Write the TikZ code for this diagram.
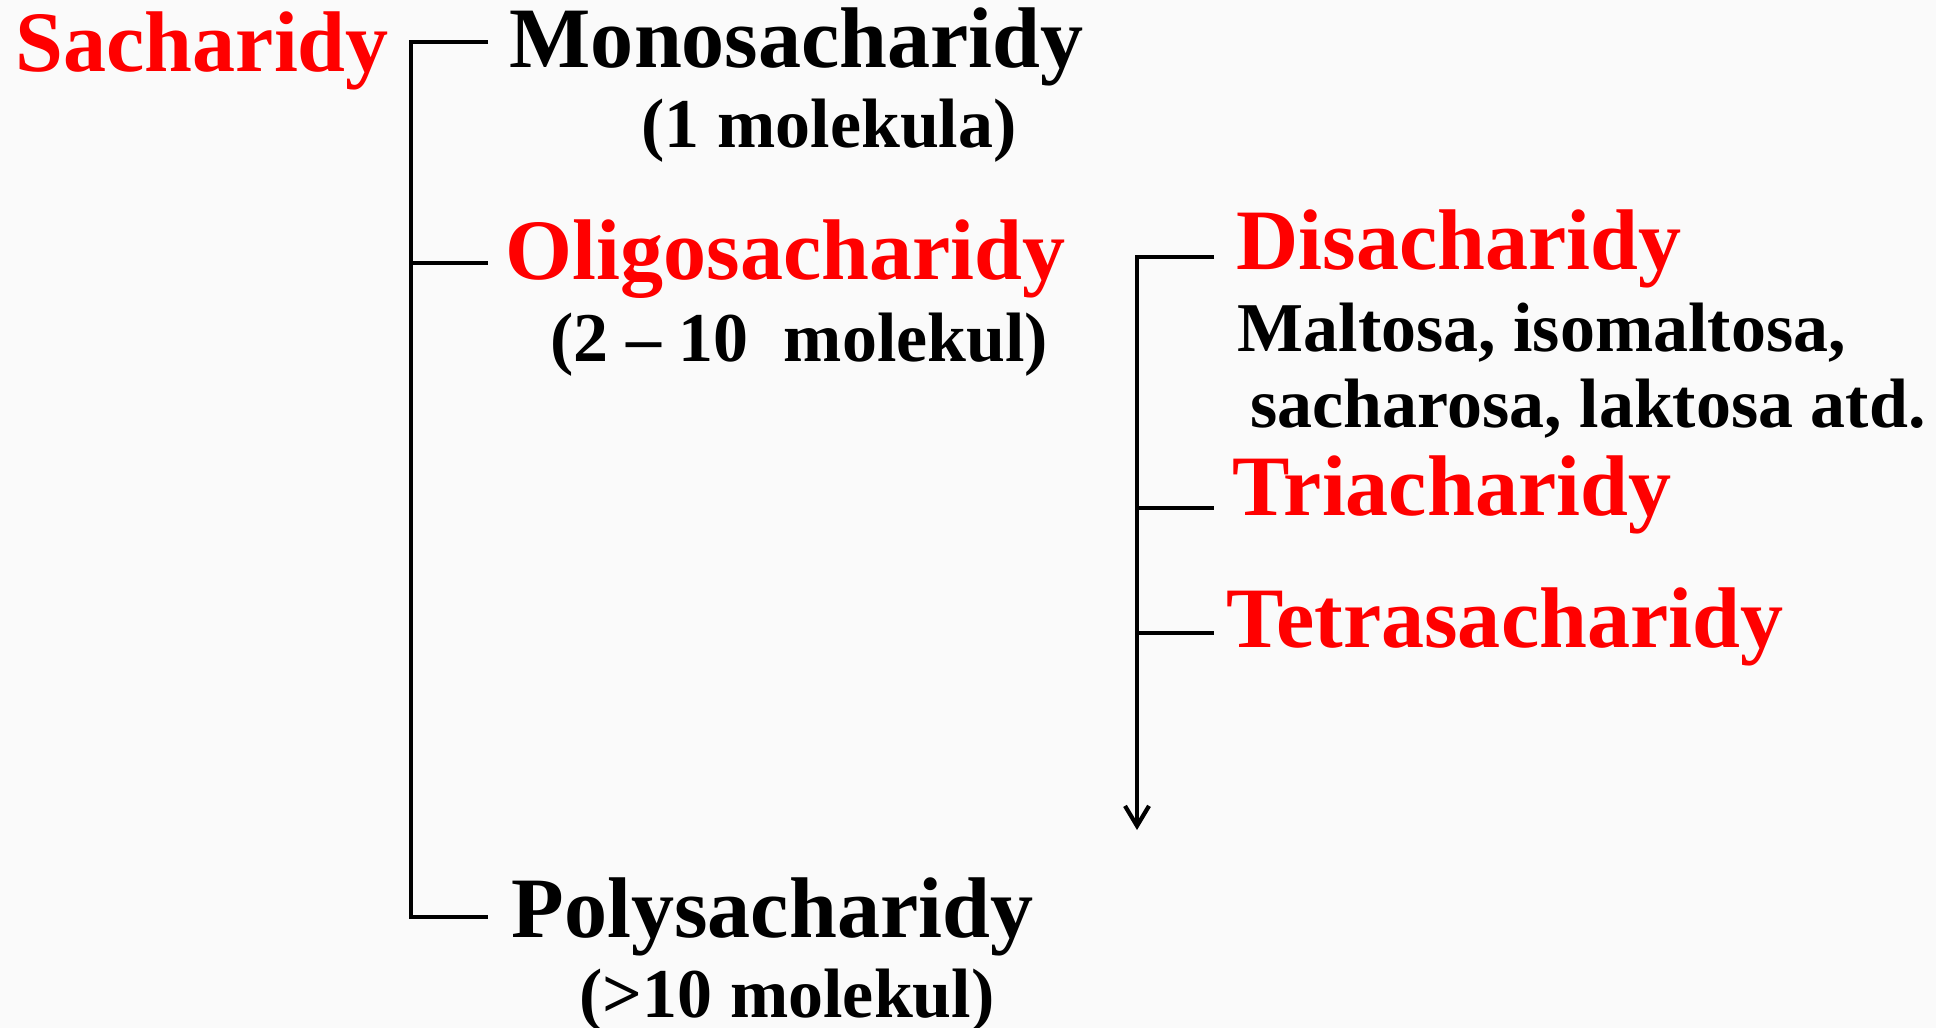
\documentclass[tikz,border=0pt]{standalone}
\usepackage{fontspec}
\setmainfont{Liberation Serif}
\usetikzlibrary{arrows.meta}
\definecolor{slidered}{RGB}{255,0,0}
\definecolor{slidepaper}{RGB}{250,250,250}
\tikzset{
  sgroup/.style   ={anchor=base west, inner sep=0pt,
                    font=\fontsize{24.5}{29}\selectfont\bfseries},
  sgroupred/.style={sgroup, text=slidered},
  snote/.style    ={anchor=base west, inner sep=0pt,
                    font=\fontsize{19.9}{24}\selectfont\bfseries},
  sbracket/.style ={line width=1.2pt, black},
  sbracketdir/.style={sbracket, -{Straight Barb[length=2mm, width=2.4mm]}},
}
\begin{document}
\begin{tikzpicture}
\fill[slidepaper] (0,0) rectangle (19.36,-10.28);
\useasboundingbox (0,0) rectangle (19.36,-10.28);
% main grouping
\node[sgroupred] (sach)   at (0.15,-0.72) {Sacharidy};
\node[sgroup]    (mono)   at (5.09,-0.68) {Monosacharidy};
\node[snote]     (monoN)  at (6.41,-1.48) {(1 molekula)};
\node[sgroupred] (oligo)  at (5.05,-2.80) {Oligosacharidy};
\node[snote]     (oligoN) at (5.50,-3.62) {(2 – 10\ \ molekul)};
\node[sgroup]    (poly)   at (5.11,-9.37) {Polysacharidy};
\node[snote]     (polyN)  at (5.79,-10.17) {(>10 molekul)};
\coordinate (bMono)  at (4.11,-0.42);
\coordinate (bOligo) at (4.11,-2.63);
\coordinate (bPoly)  at (4.11,-9.17);
\coordinate (tMono)  at (4.88,-0.42);
\coordinate (tOligo) at (4.88,-2.63);
\coordinate (tPoly)  at (4.88,-9.17);
\draw[sbracket] (tMono) -- (bMono) -- (bPoly) -- (tPoly);
\draw[sbracket] (bOligo) -- (tOligo);
% oligosaccharides
\node[sgroupred] (di)    at (12.36,-2.70) {Disacharidy};
\node[snote]     (diN1)  at (12.37,-3.52) {Maltosa, isomaltosa,};
\node[snote]     (diN2)  at (12.50,-4.28) {sacharosa, laktosa atd.};
\node[sgroupred] (tri)   at (12.32,-5.15) {Triacharidy};
\node[sgroupred] (tetra) at (12.26,-6.47) {Tetrasacharidy};
\coordinate (bDi)    at (11.37,-2.57);
\coordinate (bTri)   at (11.37,-5.08);
\coordinate (bTetra) at (11.37,-6.33);
\coordinate (bEnd)   at (11.37,-8.30);
\coordinate (tDi)    at (12.14,-2.57);
\coordinate (tTri)   at (12.14,-5.08);
\coordinate (tTetra) at (12.14,-6.33);
\draw[sbracketdir] (tDi) -- (bDi) -- (bEnd);
\draw[sbracket] (bTri) -- (tTri);
\draw[sbracket] (bTetra) -- (tTetra);
\end{tikzpicture}
\end{document}
